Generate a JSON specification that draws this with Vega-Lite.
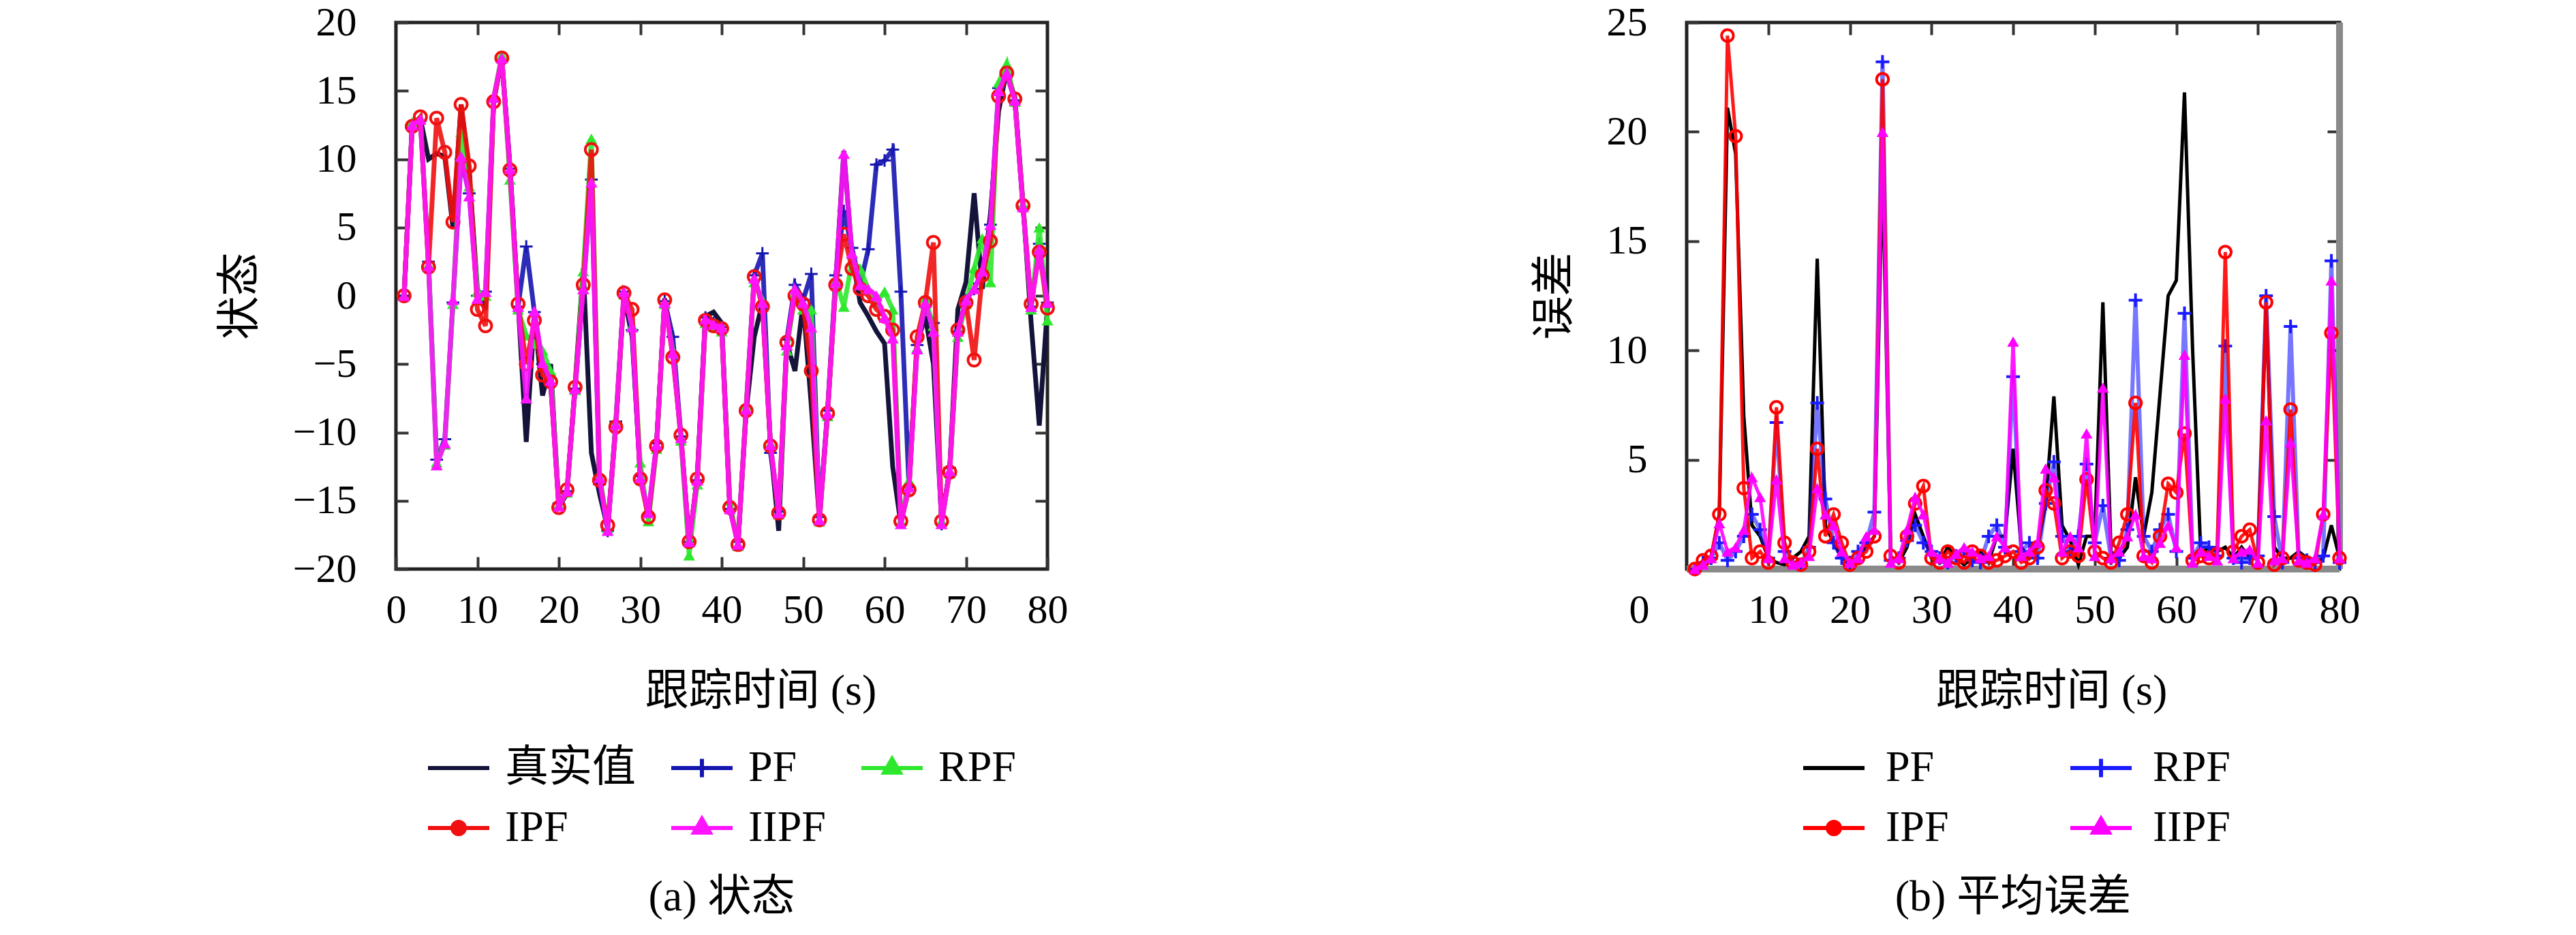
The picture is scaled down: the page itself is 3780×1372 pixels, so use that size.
{
  "$schema": "https://vega.github.io/schema/vega-lite/v6.json",
  "background": "white",
  "padding": {"left": 317, "top": 0, "right": 5, "bottom": 0},
  "datasets": {
    "state": [
      {"t":1,"true":0,"PF":0,"RPF":0,"IPF":0,"IIPF":0},
      {"t":2,"true":12.6,"PF":12.5,"RPF":12.7,"IPF":12.4,"IIPF":12.5},
      {"t":3,"true":13,"PF":12.8,"RPF":13,"IPF":13.1,"IIPF":12.9},
      {"t":4,"true":10,"PF":2.5,"RPF":2.3,"IPF":2.1,"IIPF":2.2},
      {"t":5,"true":10.4,"PF":-12,"RPF":-12.2,"IPF":13,"IIPF":-12.4},
      {"t":6,"true":10.2,"PF":-10.5,"RPF":-10.9,"IPF":10.5,"IIPF":-10.8},
      {"t":7,"true":5,"PF":-0.5,"RPF":-0.6,"IPF":5.4,"IIPF":-0.3},
      {"t":8,"true":14,"PF":10,"RPF":12,"IPF":14,"IIPF":10.2},
      {"t":9,"true":9,"PF":7.5,"RPF":8,"IPF":9.5,"IIPF":7.3},
      {"t":10,"true":0.5,"PF":0,"RPF":0.3,"IPF":-1,"IIPF":-0.2},
      {"t":11,"true":-1,"PF":0.3,"RPF":0,"IPF":-2.2,"IIPF":0.3},
      {"t":12,"true":14.3,"PF":14.3,"RPF":14.5,"IPF":14.2,"IIPF":14.5},
      {"t":13,"true":17.4,"PF":17.3,"RPF":17.6,"IPF":17.4,"IIPF":17.4},
      {"t":14,"true":9.5,"PF":9.3,"RPF":8.5,"IPF":9.2,"IIPF":9.3},
      {"t":15,"true":-0.5,"PF":-0.8,"RPF":-1,"IPF":-0.6,"IIPF":-0.8},
      {"t":16,"true":-10.7,"PF":3.6,"RPF":-2.9,"IPF":-5,"IIPF":-7.5},
      {"t":17,"true":-1.5,"PF":-1.2,"RPF":-3.5,"IPF":-1.8,"IIPF":-1.1},
      {"t":18,"true":-7.3,"PF":-5,"RPF":-4,"IPF":-5.8,"IIPF":-4.9},
      {"t":19,"true":-5,"PF":-6.5,"RPF":-5.5,"IPF":-6.3,"IIPF":-6.2},
      {"t":20,"true":-15.4,"PF":-15.2,"RPF":-15.3,"IPF":-15.5,"IIPF":-15.4},
      {"t":21,"true":-14.5,"PF":-14.3,"RPF":-14.4,"IPF":-14.2,"IIPF":-14.3},
      {"t":22,"true":-6.5,"PF":-6.8,"RPF":-6.9,"IPF":-6.7,"IIPF":-6.8},
      {"t":23,"true":2,"PF":0.5,"RPF":1.8,"IPF":0.8,"IIPF":0.5},
      {"t":24,"true":-11.5,"PF":8.5,"RPF":11.5,"IPF":10.7,"IIPF":8.3},
      {"t":25,"true":-14.5,"PF":-13.8,"RPF":-13,"IPF":-13.5,"IIPF":-13.3},
      {"t":26,"true":-17,"PF":-17.2,"RPF":-17,"IPF":-16.8,"IIPF":-17.2},
      {"t":27,"true":-9.5,"PF":-9.2,"RPF":-9.3,"IPF":-9.6,"IIPF":-9.4},
      {"t":28,"true":0,"PF":0.3,"RPF":0.1,"IPF":0.2,"IIPF":0.3},
      {"t":29,"true":-3,"PF":-2.5,"RPF":-2.2,"IPF":-1,"IIPF":-2.3},
      {"t":30,"true":-13,"PF":-13.2,"RPF":-12.2,"IPF":-13.4,"IIPF":-13.3},
      {"t":31,"true":-16.2,"PF":-16,"RPF":-16.5,"IPF":-16.2,"IIPF":-15.9},
      {"t":32,"true":-11,"PF":-10.8,"RPF":-11.2,"IPF":-11,"IIPF":-10.9},
      {"t":33,"true":-0.2,"PF":-0.4,"RPF":-0.6,"IPF":-0.3,"IIPF":-0.5},
      {"t":34,"true":-3.8,"PF":-3,"RPF":-4,"IPF":-4.5,"IIPF":-4.2},
      {"t":35,"true":-10.5,"PF":-10.3,"RPF":-10.6,"IPF":-10.2,"IIPF":-10.4},
      {"t":36,"true":-18.2,"PF":-18,"RPF":-19,"IPF":-18,"IIPF":-18},
      {"t":37,"true":-13.2,"PF":-13.5,"RPF":-13.8,"IPF":-13.4,"IIPF":-13.5},
      {"t":38,"true":-1.5,"PF":-1.6,"RPF":-2,"IPF":-1.8,"IIPF":-1.7},
      {"t":39,"true":-1.2,"PF":-2,"RPF":-2.3,"IPF":-2.2,"IIPF":-2.1},
      {"t":40,"true":-2,"PF":-2.3,"RPF":-2.6,"IPF":-2.4,"IIPF":-2.3},
      {"t":41,"true":-15.3,"PF":-15.6,"RPF":-15,"IPF":-15.5,"IIPF":-15.6},
      {"t":42,"true":-18.2,"PF":-18,"RPF":-18.3,"IPF":-18.2,"IIPF":-18.2},
      {"t":43,"true":-8.5,"PF":-8.3,"RPF":-8,"IPF":-8.4,"IIPF":-8.3},
      {"t":44,"true":-3,"PF":1.5,"RPF":1,"IPF":1.4,"IIPF":1.3},
      {"t":45,"true":-0.5,"PF":3.1,"RPF":-0.3,"IPF":-0.8,"IIPF":-0.5},
      {"t":46,"true":-11,"PF":-11.5,"RPF":-10.8,"IPF":-11,"IIPF":-10.9},
      {"t":47,"true":-17.2,"PF":-15.8,"RPF":-16,"IPF":-15.9,"IIPF":-15.9},
      {"t":48,"true":-3.5,"PF":-3.2,"RPF":-4,"IPF":-3.4,"IIPF":-3.6},
      {"t":49,"true":-5.5,"PF":0.8,"RPF":0.2,"IPF":0,"IIPF":0.5},
      {"t":50,"true":-0.5,"PF":-0.3,"RPF":-1,"IPF":-0.6,"IIPF":-0.5},
      {"t":51,"true":-8,"PF":1.6,"RPF":-1,"IPF":-5.5,"IIPF":-2.3},
      {"t":52,"true":-16.4,"PF":-16.2,"RPF":-16.5,"IPF":-16.4,"IIPF":-16.4},
      {"t":53,"true":-8.6,"PF":-8.4,"RPF":-8.8,"IPF":-8.6,"IIPF":-8.6},
      {"t":54,"true":1,"PF":1.5,"RPF":1.2,"IPF":0.8,"IIPF":1},
      {"t":55,"true":10.6,"PF":6.2,"RPF":-0.8,"IPF":4.5,"IIPF":10.4},
      {"t":56,"true":3,"PF":3.5,"RPF":2.5,"IPF":2,"IIPF":3.1},
      {"t":57,"true":-0.5,"PF":0.8,"RPF":2,"IPF":0.5,"IIPF":0.8},
      {"t":58,"true":-1.5,"PF":3.4,"RPF":0.5,"IPF":0,"IIPF":0.5},
      {"t":59,"true":-2.6,"PF":9.6,"RPF":-0.5,"IPF":-1,"IIPF":0},
      {"t":60,"true":-3.5,"PF":9.9,"RPF":0.3,"IPF":-1.5,"IIPF":-1.6},
      {"t":61,"true":-12.5,"PF":10.7,"RPF":-1,"IPF":-2.5,"IIPF":-3.1},
      {"t":62,"true":-16.7,"PF":0.3,"RPF":-16.5,"IPF":-16.5,"IIPF":-16.7},
      {"t":63,"true":-13.8,"PF":-14,"RPF":-13.5,"IPF":-14.2,"IIPF":-14},
      {"t":64,"true":-3.5,"PF":-3.6,"RPF":-3.8,"IPF":-3,"IIPF":-3.9},
      {"t":65,"true":-1.5,"PF":-0.8,"RPF":-0.2,"IPF":-0.5,"IIPF":-0.5},
      {"t":66,"true":-5,"PF":-2,"RPF":-2.2,"IPF":3.9,"IIPF":-2.6},
      {"t":67,"true":-16.5,"PF":-16.7,"RPF":-16.5,"IPF":-16.5,"IIPF":-16.7},
      {"t":68,"true":-12.8,"PF":-12.6,"RPF":-13,"IPF":-12.9,"IIPF":-12.8},
      {"t":69,"true":-1,"PF":-2.6,"RPF":-3,"IPF":-2.5,"IIPF":-2.6},
      {"t":70,"true":1,"PF":-0.3,"RPF":-0.6,"IPF":-0.5,"IIPF":-0.3},
      {"t":71,"true":7.5,"PF":0.5,"RPF":2,"IPF":-4.7,"IIPF":0.5},
      {"t":72,"true":0.5,"PF":1.8,"RPF":4.2,"IPF":1.5,"IIPF":1.8},
      {"t":73,"true":6,"PF":5.2,"RPF":1,"IPF":4,"IIPF":5.2},
      {"t":74,"true":13.5,"PF":15.2,"RPF":15.6,"IPF":14.6,"IIPF":15},
      {"t":75,"true":16.5,"PF":16.2,"RPF":17,"IPF":16.3,"IIPF":16.3},
      {"t":76,"true":14.5,"PF":14.3,"RPF":14.2,"IPF":14.4,"IIPF":14.3},
      {"t":77,"true":6.8,"PF":6.5,"RPF":6.7,"IPF":6.6,"IIPF":6.5},
      {"t":78,"true":-2,"PF":-0.8,"RPF":-1,"IPF":-0.6,"IIPF":-0.8},
      {"t":79,"true":-9.5,"PF":3.8,"RPF":5,"IPF":3.2,"IIPF":3.4},
      {"t":80,"true":-0.8,"PF":-0.5,"RPF":-1.8,"IPF":-0.9,"IIPF":-0.5}
    ],
    "error": [
      {"t":1,"PF":0,"RPF":0,"IPF":0,"IIPF":0},
      {"t":2,"PF":0.3,"RPF":0.3,"IPF":0.4,"IIPF":0.2},
      {"t":3,"PF":0.5,"RPF":0.5,"IPF":0.6,"IIPF":0.5},
      {"t":4,"PF":2.5,"RPF":1.2,"IPF":2.5,"IIPF":2.1},
      {"t":5,"PF":21.1,"RPF":0.4,"IPF":24.4,"IIPF":0.8},
      {"t":6,"PF":19,"RPF":0.8,"IPF":19.8,"IIPF":1},
      {"t":7,"PF":7,"RPF":1.5,"IPF":3.7,"IIPF":1.8},
      {"t":8,"PF":2,"RPF":2.5,"IPF":0.5,"IIPF":4.2},
      {"t":9,"PF":1.5,"RPF":1.8,"IPF":0.8,"IIPF":3.3},
      {"t":10,"PF":0.5,"RPF":0.5,"IPF":0.3,"IIPF":0.5},
      {"t":11,"PF":0.3,"RPF":6.7,"IPF":7.4,"IIPF":4.1},
      {"t":12,"PF":0.2,"RPF":0.8,"IPF":1.2,"IIPF":0.5},
      {"t":13,"PF":0.5,"RPF":0.3,"IPF":0.3,"IIPF":0.2},
      {"t":14,"PF":0.8,"RPF":0.2,"IPF":0.2,"IIPF":0.3},
      {"t":15,"PF":1.5,"RPF":1,"IPF":0.8,"IIPF":0.6},
      {"t":16,"PF":14.2,"RPF":7.6,"IPF":5.5,"IIPF":3.7},
      {"t":17,"PF":2,"RPF":3.2,"IPF":1.5,"IIPF":2.5},
      {"t":18,"PF":1.2,"RPF":1.2,"IPF":2.5,"IIPF":2},
      {"t":19,"PF":0.5,"RPF":0.5,"IPF":1.2,"IIPF":0.8},
      {"t":20,"PF":0.3,"RPF":0.3,"IPF":0.2,"IIPF":0.3},
      {"t":21,"PF":0.5,"RPF":0.8,"IPF":0.5,"IIPF":0.5},
      {"t":22,"PF":1,"RPF":1.2,"IPF":0.8,"IIPF":1.5},
      {"t":23,"PF":1.5,"RPF":2.6,"IPF":1.5,"IIPF":1.8},
      {"t":24,"PF":18.5,"RPF":23.2,"IPF":22.4,"IIPF":20},
      {"t":25,"PF":0.5,"RPF":0.4,"IPF":0.6,"IIPF":0.3},
      {"t":26,"PF":0.3,"RPF":0.5,"IPF":0.3,"IIPF":0.5},
      {"t":27,"PF":1,"RPF":1.3,"IPF":1.5,"IIPF":1.8},
      {"t":28,"PF":2.5,"RPF":2,"IPF":3,"IIPF":3.3},
      {"t":29,"PF":1.5,"RPF":1.2,"IPF":3.8,"IIPF":2.5},
      {"t":30,"PF":0.5,"RPF":0.8,"IPF":0.5,"IIPF":0.8},
      {"t":31,"PF":0.3,"RPF":0.5,"IPF":0.3,"IIPF":0.5},
      {"t":32,"PF":1,"RPF":0.3,"IPF":0.8,"IIPF":0.3},
      {"t":33,"PF":0.5,"RPF":0.6,"IPF":0.5,"IIPF":0.7},
      {"t":34,"PF":0.2,"RPF":0.8,"IPF":0.3,"IIPF":1},
      {"t":35,"PF":0.5,"RPF":0.4,"IPF":0.8,"IIPF":0.8},
      {"t":36,"PF":0.8,"RPF":0.3,"IPF":0.6,"IIPF":0.5},
      {"t":37,"PF":0.3,"RPF":1.5,"IPF":0.3,"IIPF":0.6},
      {"t":38,"PF":1.5,"RPF":2,"IPF":0.4,"IIPF":1.5},
      {"t":39,"PF":1.5,"RPF":1,"IPF":0.6,"IIPF":1},
      {"t":40,"PF":5.5,"RPF":8.8,"IPF":0.8,"IIPF":10.4},
      {"t":41,"PF":1,"RPF":0.8,"IPF":0.3,"IIPF":0.6},
      {"t":42,"PF":0.5,"RPF":1.2,"IPF":0.5,"IIPF":0.8},
      {"t":43,"PF":1,"RPF":0.5,"IPF":1,"IIPF":1.2},
      {"t":44,"PF":3,"RPF":3,"IPF":3.6,"IIPF":4.6},
      {"t":45,"PF":7.9,"RPF":4.9,"IPF":3,"IIPF":4.2},
      {"t":46,"PF":2,"RPF":1.5,"IPF":0.5,"IIPF":0.8},
      {"t":47,"PF":1.3,"RPF":0.8,"IPF":0.8,"IIPF":1.5},
      {"t":48,"PF":0.2,"RPF":1.5,"IPF":0.6,"IIPF":1},
      {"t":49,"PF":1.5,"RPF":4.8,"IPF":4.1,"IIPF":6.2},
      {"t":50,"PF":1.5,"RPF":1.2,"IPF":0.8,"IIPF":0.6},
      {"t":51,"PF":12.2,"RPF":2.9,"IPF":0.5,"IIPF":8.3},
      {"t":52,"PF":0.8,"RPF":0.5,"IPF":0.3,"IIPF":0.5},
      {"t":53,"PF":0.5,"RPF":0.4,"IPF":1.2,"IIPF":0.8},
      {"t":54,"PF":1,"RPF":1.8,"IPF":2.5,"IIPF":1.5},
      {"t":55,"PF":4.2,"RPF":12.3,"IPF":7.6,"IIPF":2.5},
      {"t":56,"PF":1.5,"RPF":1.5,"IPF":0.6,"IIPF":0.6},
      {"t":57,"PF":3.5,"RPF":0.8,"IPF":0.3,"IIPF":0.5},
      {"t":58,"PF":8,"RPF":1.8,"IPF":1.5,"IIPF":1.2},
      {"t":59,"PF":12.5,"RPF":2.5,"IPF":3.9,"IIPF":2},
      {"t":60,"PF":13.2,"RPF":0.8,"IPF":3.5,"IIPF":1},
      {"t":61,"PF":21.8,"RPF":11.7,"IPF":6.2,"IIPF":9.8},
      {"t":62,"PF":10,"RPF":0.5,"IPF":0.4,"IIPF":0.3},
      {"t":63,"PF":0.7,"RPF":1.2,"IPF":0.6,"IIPF":0.8},
      {"t":64,"PF":1,"RPF":1,"IPF":0.5,"IIPF":0.6},
      {"t":65,"PF":0.8,"RPF":0.6,"IPF":0.7,"IIPF":0.4},
      {"t":66,"PF":1,"RPF":10.2,"IPF":14.5,"IIPF":7.8},
      {"t":67,"PF":0.5,"RPF":0.5,"IPF":0.8,"IIPF":0.5},
      {"t":68,"PF":1,"RPF":0.3,"IPF":1.5,"IIPF":0.8},
      {"t":69,"PF":0.5,"RPF":0.5,"IPF":1.8,"IIPF":0.9},
      {"t":70,"PF":0.8,"RPF":0.6,"IPF":0.3,"IIPF":0.3},
      {"t":71,"PF":12,"RPF":12.5,"IPF":12.2,"IIPF":6.8},
      {"t":72,"PF":1,"RPF":2.4,"IPF":0.2,"IIPF":0.4},
      {"t":73,"PF":0.5,"RPF":0.3,"IPF":0.5,"IIPF":0.5},
      {"t":74,"PF":0.5,"RPF":11.1,"IPF":7.3,"IIPF":5.8},
      {"t":75,"PF":0.8,"RPF":0.5,"IPF":0.4,"IIPF":0.4},
      {"t":76,"PF":0.5,"RPF":0.4,"IPF":0.3,"IIPF":0.3},
      {"t":77,"PF":0.3,"RPF":0.3,"IPF":0.2,"IIPF":0.5},
      {"t":78,"PF":0.5,"RPF":0.6,"IPF":2.5,"IIPF":2.5},
      {"t":79,"PF":2,"RPF":14.1,"IPF":10.8,"IIPF":13.2},
      {"t":80,"PF":0.5,"RPF":0.3,"IPF":0.5,"IIPF":0.5}
    ]
  },
  "hconcat": [
    {
      "width": 956,
      "height": 802,
      "data": {"name": "state"},
      "title": {"text": "(a) 状态", "orient": "bottom", "offset": 38},
      "layer": [
        {
          "mark": {"type": "line", "strokeWidth": 7},
          "encoding": {
            "x": {"field": "t", "type": "quantitative", "scale": {"domain": [0, 80], "nice": false},
              "axis": {"values": [0, 10, 20, 30, 40, 50, 60, 70, 80], "title": "跟踪时间 (s)", "titleX": 535, "titlePadding": 57}},
            "y": {"field": "true", "type": "quantitative", "scale": {"domain": [-20, 20], "nice": false},
              "axis": {"values": [-20, -15, -10, -5, 0, 5, 10, 15, 20], "title": "状态", "labelPadding": 76, "titlePadding": 45}},
            "color": {
              "datum": "真实值",
              "scale": {"domain": ["真实值", "PF", "RPF", "IPF", "IIPF"], "range": ["#14143a", "#1515b0", "#2ee82e", "#f01010", "#ff14ff"]},
              "legend": {
                "orient": "none", "legendX": 44, "legendY": 1046, "direction": "horizontal", "columns": 3, "title": null,
                "gridAlign": "each", "padding": 0, "labelLimit": 500,
                "symbolSize": 8100, "symbolStrokeWidth": 6, "labelOffset": 20, "columnPadding": 40, "rowPadding": 8,
                "encode": {"symbols": {"update": {
                  "shape": {"signal": "datum.value === '真实值' ? 'M-1,0H1' : datum.value === 'PF' ? 'M-1,0H1M0,-0.3V0.3' : datum.value === 'IPF' ? 'M-1,0H1M0.2,0A0.2,0.2 0 1,1 -0.2,0A0.2,0.2 0 1,1 0.2,0' : 'M-1,0H1M0,-0.3L0.26,0.15L-0.26,0.15Z'"},
                  "fill": {"signal": "datum.value === 'RPF' ? '#2ee82e' : datum.value === 'IPF' ? '#f01010' : datum.value === 'IIPF' ? '#ff14ff' : 'transparent'"}
                }}}
              }
            }
          }
        },
        {
          "mark": {"type": "line", "strokeWidth": 7, "opacity": 0.9, "point": {"shape": "M-1,0H1M0,-1V1", "filled": false, "size": 350, "strokeWidth": 3}},
          "encoding": {
            "x": {"field": "t", "type": "quantitative", "axis": null},
            "y": {"field": "PF", "type": "quantitative", "axis": null},
            "color": {"datum": "PF"}
          }
        },
        {
          "mark": {"type": "line", "strokeWidth": 7, "opacity": 0.9, "point": {"shape": "triangle-up", "filled": true, "size": 300}},
          "encoding": {
            "x": {"field": "t", "type": "quantitative", "axis": null},
            "y": {"field": "RPF", "type": "quantitative", "axis": null},
            "color": {"datum": "RPF"}
          }
        },
        {
          "mark": {"type": "line", "strokeWidth": 7, "opacity": 0.9, "point": {"shape": "circle", "filled": false, "size": 320, "strokeWidth": 4}},
          "encoding": {
            "x": {"field": "t", "type": "quantitative", "axis": null},
            "y": {"field": "IPF", "type": "quantitative", "axis": null},
            "color": {"datum": "IPF"}
          }
        },
        {
          "mark": {"type": "line", "strokeWidth": 7, "opacity": 0.9, "point": {"shape": "triangle-up", "filled": true, "size": 320}},
          "encoding": {
            "x": {"field": "t", "type": "quantitative", "axis": null},
            "y": {"field": "IIPF", "type": "quantitative", "axis": null},
            "color": {"datum": "IIPF"}
          }
        },
        {
          "mark": {"type": "line", "opacity": 0},
          "encoding": {
            "x": {"field": "t", "type": "quantitative",
              "axis": {"orient": "top", "labels": false, "title": null, "values": [10, 20, 30, 40, 50, 60, 70]}},
            "y": {"field": "true", "type": "quantitative",
              "axis": {"orient": "right", "labels": false, "title": null, "values": [-15, -10, -5, 0, 5, 10, 15]}}
          }
        }
      ],
      "resolve": {"axis": {"x": "independent", "y": "independent"}}
    },
    {
      "width": 958,
      "height": 802,
      "data": {"name": "error"},
      "title": {"text": "(b) 平均误差", "orient": "bottom", "offset": 38},
      "layer": [
        {
          "mark": {"type": "rule", "color": "#8a8a8a", "strokeWidth": 9},
          "encoding": {
            "y": {"datum": 0, "type": "quantitative", "scale": {"domain": [0, 25], "nice": false}, "axis": null}
          }
        },
        {
          "mark": {"type": "rule", "color": "#8a8a8a", "strokeWidth": 9},
          "encoding": {
            "x": {"datum": 80, "type": "quantitative", "scale": {"domain": [0, 80], "nice": false}, "axis": null}
          }
        },
        {
          "mark": {"type": "line", "strokeWidth": 5},
          "encoding": {
            "x": {"field": "t", "type": "quantitative", "scale": {"domain": [0, 80], "nice": false},
              "axis": {"values": [10, 20, 30, 40, 50, 60, 70, 80], "title": "跟踪时间 (s)", "titleX": 535, "titlePadding": 57}},
            "y": {"field": "PF", "type": "quantitative", "scale": {"domain": [0, 25], "nice": false},
              "axis": {"values": [5, 10, 15, 20, 25], "title": "误差", "labelPadding": 76, "titlePadding": 44}},
            "color": {
              "datum": "PF",
              "scale": {"domain": ["PF", "RPF", "IPF", "IIPF"], "range": ["#000000", "#1a1aff", "#ff0000", "#ff00ff"]},
              "legend": {
                "orient": "none", "legendX": 168, "legendY": 1046, "direction": "horizontal", "columns": 2, "title": null,
                "gridAlign": "each", "padding": 0, "labelLimit": 500,
                "symbolSize": 8100, "symbolStrokeWidth": 6, "labelOffset": 28, "columnPadding": 166, "rowPadding": 8,
                "encode": {"symbols": {"update": {
                  "shape": {"signal": "datum.value === 'PF' ? 'M-1,0H1' : datum.value === 'RPF' ? 'M-1,0H1M0,-0.3V0.3' : datum.value === 'IPF' ? 'M-1,0H1M0.2,0A0.2,0.2 0 1,1 -0.2,0A0.2,0.2 0 1,1 0.2,0' : 'M-1,0H1M0,-0.3L0.26,0.15L-0.26,0.15Z'"},
                  "fill": {"signal": "datum.value === 'IPF' ? '#ff0000' : datum.value === 'IIPF' ? '#ff00ff' : 'transparent'"}
                }}}
              }
            }
          }
        },
        {
          "mark": {"type": "line", "strokeWidth": 6, "opacity": 0.6, "point": {"shape": "M-1,0H1M0,-1V1", "filled": false, "size": 400, "strokeWidth": 4, "opacity": 1}},
          "encoding": {
            "x": {"field": "t", "type": "quantitative", "axis": null},
            "y": {"field": "RPF", "type": "quantitative", "axis": null},
            "color": {"datum": "RPF"}
          }
        },
        {
          "mark": {"type": "line", "strokeWidth": 5, "opacity": 0.9, "point": {"shape": "circle", "filled": false, "size": 300, "strokeWidth": 4}},
          "encoding": {
            "x": {"field": "t", "type": "quantitative", "axis": null},
            "y": {"field": "IPF", "type": "quantitative", "axis": null},
            "color": {"datum": "IPF"}
          }
        },
        {
          "mark": {"type": "line", "strokeWidth": 5, "opacity": 0.9, "point": {"shape": "triangle-up", "filled": true, "size": 300}},
          "encoding": {
            "x": {"field": "t", "type": "quantitative", "axis": null},
            "y": {"field": "IIPF", "type": "quantitative", "axis": null},
            "color": {"datum": "IIPF"}
          }
        },
        {
          "mark": {"type": "line", "opacity": 0},
          "encoding": {
            "x": {"field": "t", "type": "quantitative",
              "axis": {"orient": "top", "labels": false, "title": null, "values": [10, 20, 30, 40, 50, 60, 70]}},
            "y": {"field": "PF", "type": "quantitative",
              "axis": {"orient": "right", "labels": false, "title": null, "values": [5, 10, 15, 20]}}
          }
        },
        {
          "mark": {"type": "line", "opacity": 0},
          "encoding": {
            "x": {"field": "t", "type": "quantitative",
              "axis": {"orient": "bottom", "values": [0], "ticks": false, "title": null, "labelOffset": -70, "labelPadding": 31}},
            "y": {"field": "PF", "type": "quantitative", "axis": null}
          }
        }
      ],
      "resolve": {"axis": {"x": "independent", "y": "independent"}}
    }
  ],
  "spacing": 676,
  "resolve": {"scale": {"color": "independent"}, "legend": {"color": "independent"}},
  "config": {
    "view": {"stroke": "#222222", "strokeWidth": 5},
    "font": "'Liberation Serif', 'Noto Sans CJK SC'",
    "title": {"fontSize": 64, "fontWeight": "normal", "color": "#000000", "font": "'Liberation Serif', 'Noto Sans CJK SC'"},
    "axis": {
      "grid": false, "domain": false, "labelFlush": false,
      "labelFont": "'Liberation Serif'", "labelFontSize": 60, "labelColor": "#000000", "labelPadding": 49,
      "tickColor": "#333333", "tickWidth": 4, "tickSize": -18,
      "titleFont": "'Liberation Serif', 'Noto Sans CJK SC'", "titleFontSize": 64, "titleFontWeight": "normal", "titleColor": "#000000"
    },
    "legend": {"labelFont": "'Liberation Serif', 'Noto Sans CJK SC'", "labelFontSize": 64, "labelColor": "#000000"}
  }
}
